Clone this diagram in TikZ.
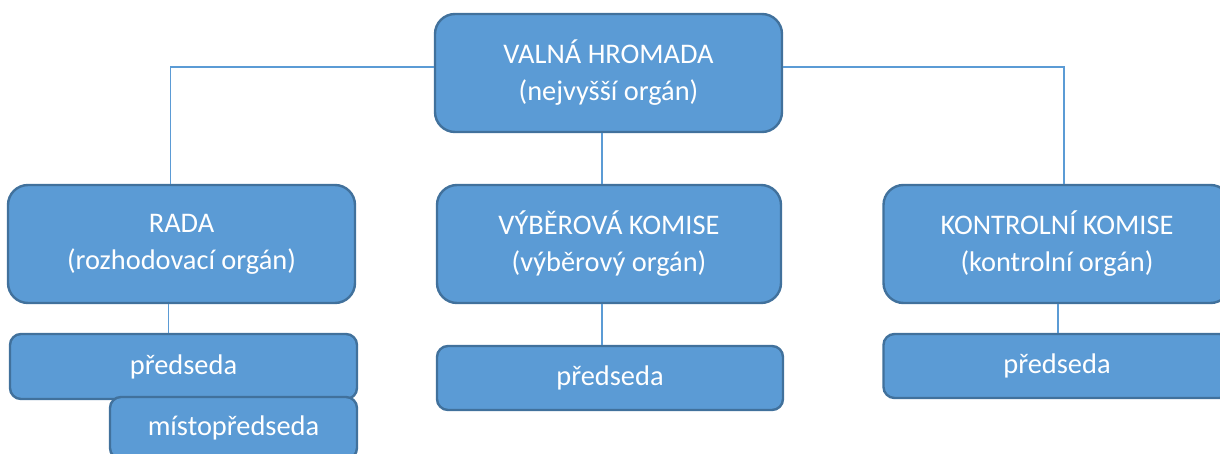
\documentclass[tikz,border=0pt]{standalone}
\usepackage{fontspec}
\setmainfont{Carlito}

\definecolor{boxfill}{HTML}{5B9BD5}
\definecolor{boxline}{HTML}{41719C}

\begin{document}
\begin{tikzpicture}[x=0.5pt,y=-0.5pt]

\tikzset{%
  organ/.style  = {draw=boxline,fill=boxfill,line width=1.2pt,rounded corners=10pt,
                   minimum width=173.5pt,minimum height=59pt,text=white,align=center,
                   font=\fontsize{14.2}{18.5}\selectfont},
  member/.style = {organ,rounded corners=5.5pt,minimum height=32.5pt},
  link/.style   = {boxfill,line width=0.6pt},
}

\useasboundingbox (0,0) rectangle (1220,454);
\clip (0,0) rectangle (1220,454);

% Organs
\node[organ]  (valna)   at (608.5,73) {VALNÁ HROMADA\\(nejvyšší orgán)};
\node[organ]  (rada)    at (181.5,244) {RADA\\(rozhodovací orgán)};
\node[organ,minimum width=172pt] (vyber) at (609,244) {VÝBĚROVÁ KOMISE\\(výběrový orgán)};
\node[organ]  (kontrol) at (1057,244) {KONTROLNÍ KOMISE\\(kontrolní orgán)};

% Members
\node[member] (predrada)    at (183.5,366.5) {předseda};
\node[member,minimum width=123.5pt,minimum height=31pt] (mistorada) at (233.5,428) {místopředseda};
\node[member,minimum width=173pt,minimum height=32pt] (predvyber) at (610,378) {předseda};
\node[member,minimum height=32pt] (predkontrol) at (1057,366) {předseda};

% Links
\draw[link] ([yshift=3pt]valna.west) -| ([xshift=-5.5pt]rada.north);
\draw[link] ([xshift=-3.25pt]valna.south) -- ([xshift=-3.5pt]vyber.north);
\draw[link] ([yshift=3pt]valna.east) -| ([xshift=3.5pt]kontrol.north);
\draw[link] ([xshift=-6.5pt]rada.south) -- ([xshift=-7.5pt]predrada.north);
\draw[link] ([xshift=-3.5pt]vyber.south) -- ([xshift=-4pt]predvyber.north);
\draw[link] ([xshift=0.5pt]kontrol.south) -- ([xshift=0.5pt]predkontrol.north);

\end{tikzpicture}
\end{document}
